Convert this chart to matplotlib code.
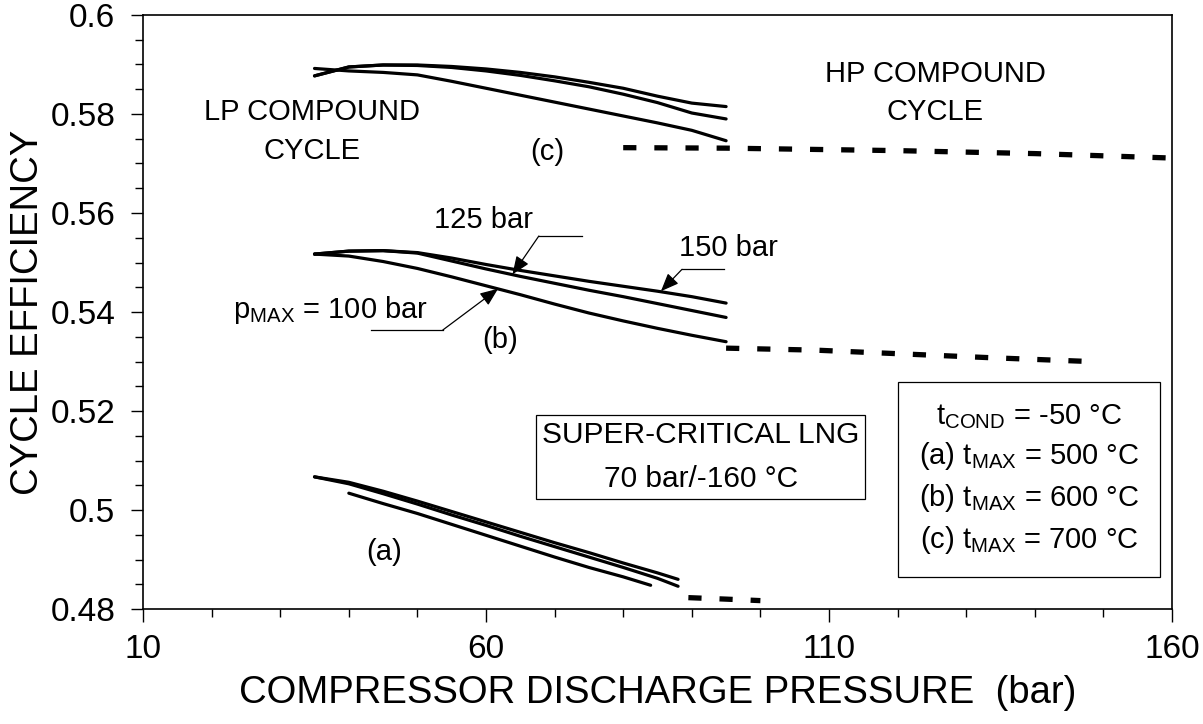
import matplotlib
matplotlib.use("Agg")
import matplotlib.pyplot as plt
from matplotlib.ticker import MultipleLocator, FixedLocator

plt.rcParams['font.family'] = ['Liberation Sans', 'DejaVu Sans']

# ---------------- data ----------------
# (c) t_MAX = 700 C
c_x = [35, 40, 45, 50, 55, 60, 65, 70, 75, 80, 85, 90, 95]
c_100 = [0.5892, 0.5887, 0.5884, 0.5879, 0.5866, 0.5852, 0.5838, 0.5824, 0.5810, 0.5796, 0.5782, 0.5767, 0.5746]
c_125 = [0.5877, 0.5895, 0.5899, 0.5898, 0.5894, 0.5887, 0.5878, 0.5867, 0.5855, 0.5840, 0.5823, 0.5802, 0.5790]
c_150 = [0.5877, 0.5895, 0.5899, 0.5899, 0.5896, 0.5891, 0.5884, 0.5875, 0.5864, 0.5852, 0.5836, 0.5822, 0.5815]
c_hp_x = [80, 95, 120, 140, 160]
c_hp = [0.5732, 0.5731, 0.5726, 0.5720, 0.5711]

# (b) t_MAX = 600 C
b_x = [35, 40, 45, 50, 55, 60, 65, 70, 75, 80, 85, 90, 95]
b_100 = [0.5517, 0.5513, 0.5502, 0.5488, 0.5471, 0.5453, 0.5435, 0.5416, 0.5398, 0.5382, 0.5367, 0.5353, 0.5340]
b_125 = [0.5517, 0.5523, 0.5524, 0.5519, 0.5503, 0.5487, 0.5472, 0.5458, 0.5444, 0.5431, 0.5417, 0.5403, 0.5389]
b_150 = [0.5517, 0.5523, 0.5524, 0.5520, 0.5509, 0.5496, 0.5484, 0.5473, 0.5462, 0.5452, 0.5442, 0.5431, 0.5418]
b_hp_x = [95, 108, 133, 148]
b_hp = [0.5327, 0.5323, 0.5308, 0.5300]

# (a) t_MAX = 500 C
a_x1 = [35, 40, 45, 50, 55, 60, 65, 70, 75, 80, 85, 88]
a_1 = [0.5067, 0.5056, 0.5038, 0.5018, 0.4997, 0.4976, 0.4955, 0.4934, 0.4914, 0.4893, 0.4873, 0.4860]
a_2 = [0.5067, 0.5053, 0.5033, 0.5012, 0.4990, 0.4969, 0.4947, 0.4926, 0.4905, 0.4884, 0.4862, 0.4846]
a_x3 = [40, 45, 50, 55, 60, 65, 70, 75, 80, 84]
a_3 = [0.5034, 0.5013, 0.4993, 0.4971, 0.4949, 0.4927, 0.4905, 0.4884, 0.4865, 0.4848]
a_hp_x = [89.5, 95, 100]
a_hp = [0.4823, 0.4820, 0.4817]

x_ticks = [10, 60, 110, 160]
y_ticks = [0.48, 0.5, 0.52, 0.54, 0.56, 0.58, 0.6]
y_ticklabels = ['0.48', '0.5', '0.52', '0.54', '0.56', '0.58', '0.6']

# ---------------- figure ----------------
fig = plt.figure(figsize=(12.03, 7.24), dpi=100)
ax = fig.add_axes([0.1189, 0.1588, 0.9742 - 0.1189, 0.9793 - 0.1588])

FS = 21      # annotation text
FT = 24      # tick labels
FL = 27.5    # axis labels
solid = dict(color='black', lw=2.3, solid_capstyle='round', solid_joinstyle='round')
dash = dict(color='black', lw=3.8, linestyle=(0, (2.5, 3.4)), dash_capstyle='butt')

for y in (c_100, c_125, c_150):
    ax.plot(c_x, y, **solid)
for y in (b_100, b_125, b_150):
    ax.plot(b_x, y, **solid)
ax.plot(a_x1, a_1, **solid)
ax.plot(a_x1, a_2, **solid)
ax.plot(a_x3, a_3, **solid)
ax.plot(c_hp_x, c_hp, **dash)
ax.plot(b_hp_x, b_hp, **dash)
ax.plot(a_hp_x, a_hp, **dash)

ax.set_xlim(10, 160)
ax.set_ylim(0.48, 0.6)
ax.xaxis.set_major_locator(FixedLocator(x_ticks))
ax.xaxis.set_minor_locator(MultipleLocator(10))
ax.yaxis.set_major_locator(FixedLocator(y_ticks))
ax.set_yticklabels(y_ticklabels)
ax.yaxis.set_minor_locator(MultipleLocator(0.005))
ax.tick_params(which='major', direction='out', length=9, width=1, labelsize=FT, color='black')
ax.tick_params(which='minor', direction='out', length=6, width=1, color='black')
ax.tick_params(axis='x', which='major', pad=9)
ax.tick_params(axis='y', which='major', pad=11)
for s in ax.spines.values():
    s.set_linewidth(1.2)

ax.set_xlabel('COMPRESSOR DISCHARGE PRESSURE  (bar)', fontsize=FL, va='center')
ax.xaxis.set_label_coords(0.5, -0.1414)
ax.set_ylabel('CYCLE EFFICIENCY', fontsize=FL, va='center')
ax.yaxis.set_label_coords(-0.1118, 0.5)

# ---------------- annotations ----------------
ax.text(34.6, 0.57646, 'LP COMPOUND\nCYCLE', fontsize=FS, ha='center', va='center', linespacing=1.46)
ax.text(125.45, 0.58424, 'HP COMPOUND\nCYCLE', fontsize=FS, ha='center', va='center', linespacing=1.46)
ax.text(69.0, 0.57232, '(c)', fontsize=FS, ha='center', va='center')
ax.text(62.0, 0.53434, '(b)', fontsize=FS, ha='center', va='center')
ax.text(45.2, 0.49152, '(a)', fontsize=FS, ha='center', va='center')

ax.text(59.6, 0.55859, '125 bar', fontsize=FS, ha='center', va='center')
ax.text(95.3, 0.55293, '150 bar', fontsize=FS, ha='center', va='center')
ax.text(37.4, 0.54040, r'p$_{\mathregular{MAX}}$ = 100 bar', fontsize=FS, ha='center', va='center')

arrow = dict(arrowstyle='-|>,head_length=1.1,head_width=0.45', color='black', lw=0.9,
             shrinkA=0, shrinkB=0)
# 125 bar leader
ax.plot([74.0, 67.7], [0.55535, 0.55535], color='black', lw=0.9)
ax.annotate('', xy=(63.86, 0.54760), xytext=(67.7, 0.55535), arrowprops=arrow)
# 150 bar leader
ax.plot([94.7, 88.57], [0.54862, 0.54862], color='black', lw=0.9)
ax.annotate('', xy=(85.5, 0.54420), xytext=(88.57, 0.54862), arrowprops=arrow)
# 100 bar leader
ax.plot([43.2, 53.7], [0.53636, 0.53636], color='black', lw=0.9)
ax.annotate('', xy=(61.76, 0.54470), xytext=(53.7, 0.53636), arrowprops=arrow)

ax.text(91.3, 0.51070, 'SUPER-CRITICAL LNG\n70 bar/-160 °C', fontsize=21.5, ha='center', va='center',
        linespacing=1.75,
        bbox=dict(boxstyle='square,pad=0.2', fc='white', ec='black', lw=0.9))

legend_txt = ('t$_{\\mathregular{COND}}$ = -50 °C\n'
              '(a) t$_{\\mathregular{MAX}}$ = 500 °C\n'
              '(b) t$_{\\mathregular{MAX}}$ = 600 °C\n'
              '(c) t$_{\\mathregular{MAX}}$ = 700 °C')
ax.text(139.15, 0.50630, legend_txt, fontsize=FS, ha='center', va='center', linespacing=1.4,
        bbox=dict(boxstyle='square,pad=0.72', fc='white', ec='black', lw=0.9))

fig.savefig('out.png', dpi=100)
